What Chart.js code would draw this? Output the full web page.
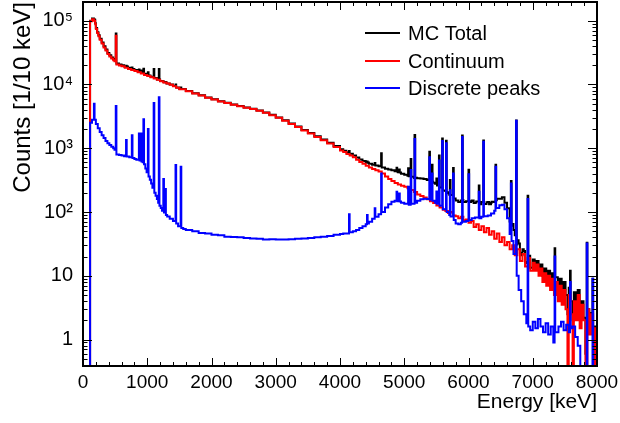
<!DOCTYPE html>
<html>
<head>
<meta charset="utf-8">
<script src="https://cdn.jsdelivr.net/npm/chart.js@4.4.1/dist/chart.umd.min.js"></script>
<style>
  html, body { margin: 0; padding: 0; background: #fff; }
  #wrap { width: 620px; height: 423px; }
</style>
</head>
<body>
<div id="wrap"><canvas id="spectrumChart" width="620" height="423"></canvas></div>
<script>
// histogram bins: [bin low edge in keV, counts per 10 keV]
const totalBins = [
  [0,0.1],[110,100000],[140,108000],[170,105000],[180,103000],[190,91000],[200,76400],[220,66000],[240,58800],[260,51800],
  [290,45600],[320,39500],[350,35300],[380,31200],[410,28600],[440,26500],[470,25000],[490,24000],[510,62600],[520,21300],
  [560,20600],[600,20000],[640,19050],[670,19650],[680,19040],[700,18200],[750,17500],[760,18400],[770,17500],[800,16900],
  [850,16150],[870,17200],[880,16150],[900,16500],[910,15400],[940,17650],[950,14660],[1000,13920],[1010,15500],[1020,13860],
  [1050,13180],[1100,17500],[1110,12600],[1150,11960],[1180,17500],[1190,11920],[1200,11315],[1250,11030],[1260,10800],[1280,10930],
  [1290,10790],[1300,10385],[1350,9978],[1400,9472],[1440,9945],[1450,8966],[1500,8460],[1520,8912],[1530,8456],[1600,7852],
  [1700,7250],[1800,6747],[1900,6246],[2000,5844],[2100,5443],[2200,5141],[2300,4840],[2400,4590],[2500,4339],[2600,4138],
  [2700,3888],[2800,3637],[2900,3337],[3000,3037],[3100,2737],[3200,2437],[3300,2188],[3400,1938],[3500,1739],[3600,1540],
  [3700,1371],[3800,1222],[3900,1084],[4000,965],[4050,916],[4100,856],[4140,902],[4150,818],[4200,770],[4250,712],
  [4300,666],[4350,630],[4400,594],[4420,620],[4430,596],[4450,570],[4500,548],[4540,584],[4550,534],[4600,522],
  [4640,830],[4650,500],[4700,478],[4750,462],[4800,450],[4850,435],[4880,493],[4890,433],[4900,418],[4920,465],
  [4930,416],[4950,398],[5000,383],[5050,370],[5060,484],[5070,365],[5100,677],[5110,357],[5150,340],[5160,1605],
  [5170,345],[5200,338],[5250,336],[5300,330],[5350,318],[5390,878],[5400,303],[5430,548],[5440,298],[5450,288],
  [5480,278],[5500,336],[5510,261],[5540,766],[5550,243],[5590,1418],[5600,218],[5640,214],[5650,1304],[5660,204],
  [5680,196],[5700,186],[5710,316],[5720,185],[5760,488],[5770,163],[5800,152],[5840,144],[5880,152],[5900,1584],
  [5910,154],[5920,144],[5960,148],[6000,458],[6010,143],[6040,147],[6050,152],[6080,138],[6100,140],[6120,146],
  [6160,260],[6170,132],[6200,144],[6230,1320],[6240,134],[6280,142],[6300,144],[6320,132],[6350,139],[6360,145],
  [6400,143],[6420,548],[6430,153],[6440,161],[6480,162],[6520,170],[6560,140],[6600,114],[6640,71],[6660,306],
  [6670,61],[6680,65],[6700,52],[6720,43],[6740,2721],[6750,31],[6760,36],[6780,32],[6800,23],[6820,21],
  [6840,26],[6860,24.5],[6880,16.5],[6900,15.8],[6920,179],[6930,20.6],[6960,13.4],[7000,18],[7030,14],[7060,17],
  [7090,12.5],[7120,15],[7150,10],[7180,13],[7210,9],[7240,12],[7270,8],[7300,11],[7330,7],[7340,27],
  [7350,9.5],[7390,6],[7420,9],[7450,5.5],[7480,8],[7510,5],[7540,2.5],[7560,6.5],[7580,12],[7590,4],
  [7620,2],[7640,5.5],[7670,3.2],[7700,6],[7730,2.5],[7760,4],[7790,2.2],[7820,0.6],[7840,33],[7850,3],
  [7880,1.3],[7910,2.6],[7930,9],[7940,0.8],[7960,1.6],[7990,0.4],[8000,0.4]
];

const continuumBins = [
  [0,0.1],[110,98000],[140,105000],[170,100000],[190,88000],[200,74000],[220,64000],[240,57000],[260,50000],[290,44000],
  [320,38000],[350,34000],[380,30000],[410,27500],[440,25500],[470,24000],[490,23000],[510,58000],[520,20500],[560,19800],
  [600,19200],[650,18300],[700,17500],[750,16800],[800,16200],[850,15500],[900,14800],[950,14100],[1000,13500],[1050,12900],
  [1100,12400],[1150,11800],[1200,11200],[1250,10700],[1300,10300],[1350,9900],[1400,9400],[1450,8900],[1500,8400],[1600,7800],
  [1700,7200],[1800,6700],[1900,6200],[2000,5800],[2100,5400],[2200,5100],[2300,4800],[2400,4550],[2500,4300],[2600,4100],
  [2700,3850],[2800,3600],[2900,3300],[3000,3000],[3100,2700],[3200,2400],[3300,2150],[3400,1900],[3500,1700],[3600,1500],
  [3700,1330],[3800,1180],[3900,1040],[4000,920],[4050,870],[4100,810],[4150,770],[4200,720],[4250,660],[4300,610],
  [4350,570],[4400,530],[4450,500],[4500,470],[4550,450],[4600,430],[4650,400],[4700,360],[4750,330],[4800,305],
  [4850,285],[4900,270],[4950,258],[5000,248],[5050,235],[5100,222],[5150,205],[5200,188],[5250,178],[5300,168],
  [5350,158],[5400,148],[5450,138],[5500,126],[5550,118],[5600,108],[5640,104],[5680,96],[5720,100],[5760,88],
  [5800,86],[5840,80],[5880,84],[5920,74],[5960,76],[6000,68],[6040,72],[6080,58],[6120,64],[6160,52],
  [6200,60],[6240,48],[6280,56],[6320,44],[6360,50],[6400,38],[6440,46],[6480,34],[6520,40],[6560,30],
  [6600,34],[6640,26],[6680,30],[6720,21],[6760,26],[6800,17],[6840,22],[6880,14],[6920,19],[6960,12],
  [7000,16],[7030,12],[7060,15],[7090,10],[7120,13],[7150,8],[7180,11],[7210,7],[7240,10],[7270,6],
  [7300,9],[7330,5],[7360,8],[7390,4],[7420,7],[7450,3.5],[7480,6],[7510,3],[7540,0.1],[7560,5],
  [7590,2.5],[7620,0.1],[7640,4],[7670,2],[7700,5],[7730,1.5],[7760,3.5],[7790,2],[7820,0.1],[7850,3],
  [7880,1.2],[7910,2.5],[7940,0.1],[7960,1.5],[7990,0.1],[8000,0.1]
];

const peakBins = [
  [0,0.1],[110,2500],[140,2800],[170,5000],[180,2800],[200,2400],[230,2050],[260,1800],[290,1600],[320,1450],
  [350,1300],[380,1200],[410,1120],[440,1050],[470,1000],[490,950],[510,4600],[520,800],[560,780],[600,770],
  [640,750],[670,1350],[680,740],[720,720],[760,1600],[770,700],[800,680],[830,660],[870,1700],[880,640],
  [900,1700],[910,620],[930,600],[940,2850],[950,560],[970,480],[990,420],[1010,2000],[1020,360],[1040,320],
  [1060,280],[1080,240],[1100,5100],[1110,200],[1130,180],[1150,160],[1170,140],[1180,6300],[1190,125],[1210,115],
  [1230,105],[1250,330],[1260,98],[1280,230],[1290,90],[1310,85],[1350,78],[1400,72],[1440,545],[1450,66],
  [1480,60],[1520,512],[1530,56],[1560,54],[1600,52],[1700,50],[1800,47],[1900,46],[2000,44],[2100,43],
  [2200,41],[2300,40.5],[2400,40],[2500,39],[2600,38.5],[2700,38],[2800,37],[2900,37.5],[3000,37],[3100,37],
  [3200,37.5],[3300,38],[3400,38.5],[3500,39],[3600,40],[3700,41],[3800,42],[3900,44],[4000,45],[4050,46],
  [4100,46],[4140,92],[4150,48],[4200,50],[4250,52],[4300,56],[4350,60],[4400,64],[4420,90],[4430,66],
  [4450,70],[4500,78],[4540,114],[4550,84],[4600,92],[4640,400],[4650,100],[4700,118],[4750,132],[4800,145],
  [4850,150],[4880,208],[4890,148],[4920,195],[4930,146],[4950,140],[5000,135],[5060,249],[5070,130],[5100,455],
  [5110,135],[5160,1400],[5170,140],[5200,150],[5250,158],[5300,162],[5350,160],[5390,720],[5400,155],[5430,400],
  [5440,150],[5480,140],[5500,210],[5510,135],[5540,640],[5550,125],[5590,1300],[5600,110],[5650,1200],[5660,100],
  [5700,90],[5710,220],[5720,85],[5760,400],[5770,75],[5800,66],[5840,64],[5880,68],[5900,1500],[5910,70],
  [5960,72],[6000,390],[6010,75],[6050,80],[6100,82],[6160,208],[6170,80],[6200,84],[6230,1260],[6240,86],
  [6300,88],[6350,95],[6400,105],[6420,510],[6430,115],[6480,128],[6520,130],[6560,110],[6600,80],[6640,45],
  [6660,280],[6670,35],[6700,22],[6740,2700],[6750,10],[6780,6],[6820,4],[6860,2.5],[6900,1.8],[6920,160],
  [6930,1.6],[6960,1.4],[7000,1.9],[7040,1.5],[7080,2.1],[7120,1.6],[7160,1.3],[7200,1.8],[7240,1.2],[7280,1.6],
  [7320,0.9],[7340,20],[7350,1.3],[7400,1.6],[7440,1.9],[7480,1.4],[7520,1.7],[7560,1.3],[7580,8],[7590,1.5],
  [7620,1.6],[7660,1.1],[7700,0.8],[7740,0.1],[7840,32],[7850,0.1],[7930,9],[7940,0.1],[8000,0.1]
];

const seriesLabels = ['MC Total', 'Continuum', 'Discrete peaks'];
const seriesColors = ['#000000', '#ff0000', '#0000ff'];

const xTicks = [0, 1000, 2000, 3000, 4000, 5000, 6000, 7000, 8000];
const yTicks = [1, 10, 100, 1000, 10000, 100000];
const yTickLabels = ['1', '10', '10²', '10³', '10⁴', '10⁵'];

Chart.defaults.font.family = '"Liberation Sans", Arial, Helvetica, sans-serif';
Chart.defaults.color = '#000';

// ROOT style frame: inward ticks on all four sides, plus the legend box
const rootFrame = {
  id: 'rootFrame',
  afterDatasetsDraw(chart) {
    const { ctx, chartArea: a, scales: { x, y } } = chart;
    ctx.save();
    ctx.strokeStyle = '#000';
    ctx.lineWidth = 1;
    ctx.beginPath();
    for (let e = x.min; e <= x.max; e += 200) {
      const px = Math.round(x.getPixelForValue(e)) + 0.5;
      const len = e % 1000 === 0 ? 8 : 4;
      ctx.moveTo(px, a.bottom); ctx.lineTo(px, a.bottom - len);
      ctx.moveTo(px, a.top); ctx.lineTo(px, a.top + len);
    }
    for (let d = -1; d <= 5; d++) {
      for (let m = 1; m <= 9; m++) {
        const v = m * Math.pow(10, d);
        if (v < y.min || v > y.max) continue;
        const py = Math.round(y.getPixelForValue(v)) + 0.5;
        const len = m === 1 ? 9 : 4.5;
        ctx.moveTo(a.left, py); ctx.lineTo(a.left + len, py);
        ctx.moveTo(a.right, py); ctx.lineTo(a.right - len, py);
      }
    }
    ctx.stroke();
    ctx.lineWidth = 2;
    ctx.strokeRect(a.left, a.top, a.right - a.left, a.bottom - a.top);

    // legend
    const rows = [33, 61, 88];
    ctx.font = '20px "Liberation Sans", Arial, sans-serif';
    ctx.textBaseline = 'middle';
    ctx.textAlign = 'left';
    chart.data.datasets.forEach((ds, i) => {
      ctx.strokeStyle = ds.borderColor;
      ctx.lineWidth = 2;
      ctx.beginPath();
      ctx.moveTo(365, rows[i]);
      ctx.lineTo(400, rows[i]);
      ctx.stroke();
      ctx.fillStyle = '#000';
      ctx.fillText(ds.label, 408, rows[i] + 1);
    });
    ctx.restore();
  }
};

const toPoints = bins => bins.map(([e, n]) => ({ x: e, y: n }));
const allBins = [totalBins, continuumBins, peakBins];

new Chart(document.getElementById('spectrumChart').getContext('2d'), {
  type: 'line',
  data: {
    datasets: allBins.map((bins, i) => ({
      label: seriesLabels[i],
      data: toPoints(bins),
      borderColor: seriesColors[i],
      borderWidth: 2,
      pointRadius: 0,
      stepped: 'before',
      tension: 0,
      fill: false,
      order: 3 - i
    }))
  },
  options: {
    responsive: false,
    animation: false,
    layout: { padding: { top: 2, right: 23, left: 0, bottom: 0 } },
    plugins: { legend: { display: false }, tooltip: { enabled: false } },
    scales: {
      x: {
        type: 'linear',
        min: 0,
        max: 8000,
        afterFit: s => { s.height = 57; s.paddingLeft = 0; s.paddingRight = 0; },
        afterBuildTicks: s => { s.ticks = xTicks.map(v => ({ value: v })); },
        grid: { display: false, drawTicks: false },
        border: { display: false },
        ticks: { padding: 5, maxRotation: 0, autoSkip: false, font: { size: 19 }, callback: v => String(v) },
        title: { display: true, text: 'Energy [keV]', align: 'end', font: { size: 21 }, padding: { top: 0, bottom: 8 } }
      },
      y: {
        type: 'logarithmic',
        min: 0.385,
        max: 196000,
        afterFit: s => { s.width = 83; s.paddingTop = 0; s.paddingBottom = 0; },
        afterBuildTicks: s => { s.ticks = yTicks.map(v => ({ value: v })); },
        grid: { display: false, drawTicks: false },
        border: { display: false },
        ticks: {
          padding: 10, autoSkip: false, font: { size: 20 },
          callback: v => { const i = yTicks.indexOf(v); return i >= 0 ? yTickLabels[i] : ''; }
        },
        title: { display: true, text: 'Counts [1/10 keV]', align: 'end', font: { size: 24 }, padding: { top: 9, bottom: 0 } }
      }
    }
  },
  plugins: [rootFrame]
});
</script>
</body>
</html>
